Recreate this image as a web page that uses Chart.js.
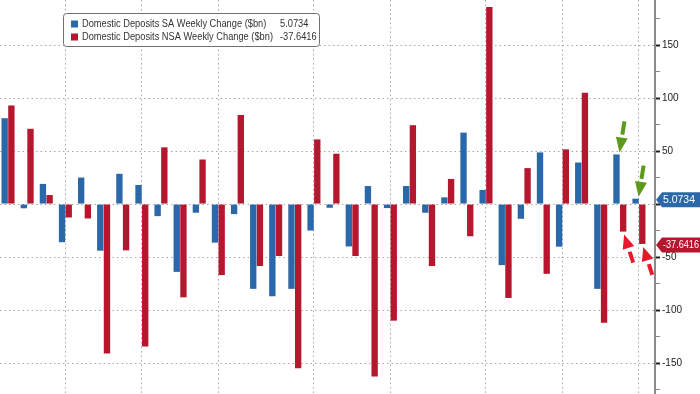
<!DOCTYPE html>
<html>
<head>
<meta charset="utf-8">
<script src="https://cdn.jsdelivr.net/npm/chart.js@4.4.1/dist/chart.umd.min.js"></script>
<style>
  html, body { margin: 0; padding: 0; background: #fff; }
  #wrap { width: 700px; height: 394px; position: relative; }
</style>
</head>
<body>
<div id="wrap"><canvas id="chart"></canvas></div>
<script>
// ── Data ───────────────────────────────────────────────

const saLabel = "Domestic Deposits SA Weekly Change ($bn)";
const nsaLabel = "Domestic Deposits NSA Weekly Change ($bn)";

const weeks = [1, 2, 3, 4, 5, 6, 7, 8, 9, 10, 11, 12, 13, 14, 15, 16, 17,
  18, 19, 20, 21, 22, 23, 24, 25, 26, 27, 28, 29, 30, 31, 32, 33, 34];

const saChange = [81, -4, 19, -36, 25, -44, 28.5, 18, -11.4, -64, -8.2, -36.4,
  -9.5, -80, -87, -80, -25, -3.5, -40, 17, -3.8, 17, -8.2, 6.3, 67.4, 13.3,
  -57.6, -13.9, 48.7, -40.2, 39.2, -80, 46.8, 5.0734];

const nsaChange = [93, 71, 8.5, -12.7, -13.6, -141, -43.7, -134.5, 53.5, -88,
  42, -67, 84, -58.5, -49, -155, 61, 47.5, -49, -162.6, -110, 74.4, -58.5,
  23.7, -30.4, 186, -88.6, 33.9, -65.8, 51.6, 105, -112, -26, -37.6416];

// month boundaries (vertical grid)
const monthTicks = [4, 8, 12, 17, 21, 26, 30, 34];
const yTicks = [-175, -150, -125, -100, -75, -50, -25, 0, 25, 50, 75, 100, 125, 150, 175];

// weeks highlighted with arrows
const flaggedWeeks = [33, 34];

const BLUE = "#2b68a9";
const RED = "#b5172f";
const FONT = '"Liberation Sans", Arial, sans-serif';

// ── Helpers ────────────────────────────────────────────

// narrow-ish text, the source uses a condensed terminal font
function squeezeText(ctx, text, x, y, sx) {
  ctx.save();
  ctx.translate(x, y);
  ctx.scale(sx, 1);
  ctx.fillText(text, 0, 0);
  ctx.restore();
}

function drawArrow(ctx, tx, ty, fx, fy, color, head, gap) {
  const len = Math.hypot(tx - fx, ty - fy);
  const ux = (tx - fx) / len;
  const uy = (ty - fy) / len;
  const half = 6;
  const bx = tx - head * ux;
  const by = ty - head * uy;
  const shaft = len - head - gap;
  ctx.save();
  ctx.strokeStyle = color;
  ctx.lineWidth = 4;
  ctx.beginPath();
  ctx.moveTo(fx, fy);
  ctx.lineTo(fx + shaft * ux, fy + shaft * uy);
  ctx.stroke();
  ctx.fillStyle = color;
  ctx.beginPath();
  ctx.moveTo(tx, ty);
  ctx.lineTo(bx + half * uy, by - half * ux);
  ctx.lineTo(bx - half * uy, by + half * ux);
  ctx.closePath();
  ctx.fill();
  ctx.restore();
}

function drawTag(ctx, x, y, text, color, right) {
  const h = 15;
  const tip = 6;
  ctx.save();
  ctx.fillStyle = color;
  ctx.beginPath();
  ctx.moveTo(x, y);
  ctx.lineTo(x + tip, y - h / 2);
  ctx.lineTo(right, y - h / 2);
  ctx.lineTo(right, y + h / 2);
  ctx.lineTo(x + tip, y + h / 2);
  ctx.closePath();
  ctx.fill();
  ctx.fillStyle = "#fff";
  ctx.font = "11px " + FONT;
  ctx.textBaseline = "middle";
  const w = ctx.measureText(text).width;
  const room = right - x - tip - 2;
  squeezeText(ctx, text, x + tip + 1, y + 0.5, Math.min(0.95, room / w));
  ctx.restore();
}

// ── Plugins ────────────────────────────────────────────

const arrowPlugin = {
  id: "arrows",
  afterDatasetsDraw(chart) {
    const ctx = chart.ctx;
    const sa = chart.getDatasetMeta(0).data;
    const nsa = chart.getDatasetMeta(1).data;
    flaggedWeeks.forEach((w) => {
      const b = sa[w - 1];
      const r = nsa[w - 1];
      const gx = b.x + 3, gy = b.y - 2;
      drawArrow(ctx, gx, gy, gx + 5, gy - 31, "#5c9a1b", 15, 3);
      const rx = r.x + 1, ry = r.y + 3;
      drawArrow(ctx, rx, ry, rx + 9, ry + 28, "#e8192c", 14, 4);
    });
  },
};

const tagPlugin = {
  id: "tags",
  afterDraw(chart) {
    const ctx = chart.ctx;
    const y = chart.scales.y;
    const x0 = chart.chartArea.right + 1;
    const lastSa = saChange[saChange.length - 1];
    const lastNsa = nsaChange[nsaChange.length - 1];
    drawTag(ctx, x0, y.getPixelForValue(lastSa) + 1, String(lastSa), BLUE, chart.width);
    drawTag(ctx, x0, y.getPixelForValue(lastNsa) + 1, String(lastNsa), RED, chart.width);
  },
};

const legendPlugin = {
  id: "legendBox",
  afterDraw(chart) {
    const ctx = chart.ctx;
    ctx.save();
    ctx.fillStyle = "#fff";
    ctx.strokeStyle = "#707070";
    ctx.lineWidth = 1;
    ctx.beginPath();
    ctx.roundRect(63.5, 13.5, 256, 33, 3);
    ctx.fill();
    ctx.stroke();

    const rows = [
      { label: saLabel, value: saChange[saChange.length - 1], color: BLUE, y: 24 },
      { label: nsaLabel, value: nsaChange[nsaChange.length - 1], color: RED, y: 37 },
    ];
    ctx.font = "10px " + FONT;
    ctx.textBaseline = "middle";
    const fit = 191 / ctx.measureText(nsaLabel).width;
    rows.forEach((r) => {
      ctx.fillStyle = r.color;
      ctx.fillRect(71, r.y - 3.5, 7, 7);
      ctx.fillStyle = "#333";
      squeezeText(ctx, r.label, 82, r.y, fit);
      squeezeText(ctx, String(r.value), 280, r.y, fit);
    });
    ctx.restore();
  },
};

// ── Chart ──────────────────────────────────────────────

new Chart(document.getElementById("chart"), {
  type: "bar",
  data: {
    labels: weeks,
    datasets: [
      {
        label: saLabel,
        data: saChange,
        backgroundColor: BLUE,
        borderWidth: 0,
        categoryPercentage: 0.7,
        barPercentage: 0.95,
      },
      {
        label: nsaLabel,
        data: nsaChange,
        backgroundColor: RED,
        borderWidth: 0,
        categoryPercentage: 0.7,
        barPercentage: 0.95,
      },
    ],
  },
  options: {
    responsive: true,
    maintainAspectRatio: false,
    animation: false,
    layout: { padding: 0 },
    plugins: {
      legend: { display: false },
      tooltip: { enabled: false },
    },
    scales: {
      x: {
        type: "linear",
        min: 0.58,
        max: 34.84,
        offset: false,
        afterBuildTicks: (scale) => {
          scale.ticks = monthTicks.map((v) => ({ value: v }));
        },
        afterFit: (scale) => {
          scale.height = 0;
          scale.paddingLeft = 0;
          scale.paddingRight = 0;
        },
        ticks: { display: false },
        grid: {
          color: "#a8a8a8",
          lineWidth: 1,
          drawTicks: false,
          offset: false,
        },
        border: { display: false, dash: [1.5, 3] },
      },
      y: {
        position: "right",
        min: -179.2,
        max: 192.5,
        afterBuildTicks: (scale) => {
          scale.ticks = yTicks.map((v) => ({ value: v }));
        },
        afterFit: (scale) => {
          scale.width = 45;
          scale.paddingTop = 0;
          scale.paddingBottom = 0;
        },
        ticks: {
          autoSkip: false,
          padding: 2,
          color: "#222",
          font: { family: FONT, size: 10 },
          callback: (v) => (v % 50 === 0 ? String(v) : ""),
        },
        grid: {
          color: (c) => (c.tick && c.tick.value % 50 === 0 ? "#a8a8a8" : "rgba(0,0,0,0)"),
          lineWidth: 1,
          tickLength: 5,
          tickColor: (c) => (c.tick && c.tick.value % 50 === 0 ? "#222" : "#888"),
          tickWidth: (c) => (c.tick && c.tick.value % 50 === 0 ? 2 : 1),
        },
        border: { display: true, color: "#8a8a8a", width: 2, dash: [1.5, 3] },
      },
    },
  },
  plugins: [arrowPlugin, tagPlugin, legendPlugin],
});
</script>
</body>
</html>
